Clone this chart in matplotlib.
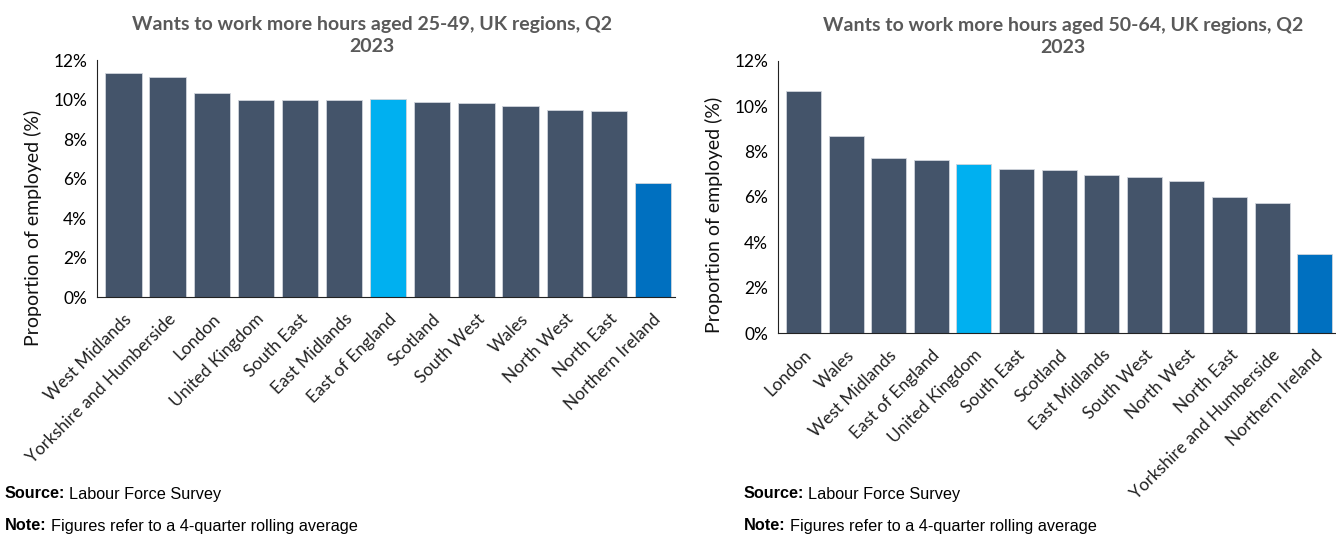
import matplotlib.pyplot as plt
from matplotlib.ticker import FuncFormatter

# regions and share of employed who want more hours, Q2 2023
regions_25_49 = ["West Midlands", "Yorkshire and Humberside", "London", "United Kingdom",
                 "South East", "East Midlands", "East of England", "Scotland", "South West",
                 "Wales", "North West", "North East", "Northern Ireland"]
values_25_49 = [11.35, 11.15, 10.35, 10.0, 10.0, 10.0, 10.02, 9.87, 9.8, 9.67, 9.48, 9.42, 5.77]

regions_50_64 = ["London", "Wales", "West Midlands", "East of England", "United Kingdom",
                 "South East", "Scotland", "East Midlands", "South West", "North West",
                 "North East", "Yorkshire and Humberside", "Northern Ireland"]
values_50_64 = [10.67, 8.69, 7.71, 7.65, 7.46, 7.24, 7.19, 6.97, 6.9, 6.72, 6.02, 5.74, 3.49]

# highlighted bar in each chart
highlight_25_49 = "East of England"
highlight_50_64 = "United Kingdom"

DARK = "#44546A"
LIGHT = "#00B0F0"
NI_BLUE = "#0070C0"
TITLE_GREY = "#595959"
FONT = "Lato"
FOOT = "Liberation Sans"


def bar_colours(names, highlight):
    out = []
    for n in names:
        if n == "Northern Ireland":
            out.append(NI_BLUE)
        elif n == highlight:
            out.append(LIGHT)
        else:
            out.append(DARK)
    return out


def draw(ax, names, vals, highlight, title, label_xy, title_x):
    x = range(len(names))
    ax.bar(x, vals, width=0.82, color=bar_colours(names, highlight),
           edgecolor="#d0d5dc", linewidth=0.6)
    ax.set_xlim(-0.6, len(names) - 0.5)
    ax.set_ylim(0, 12)
    ax.set_yticks(range(0, 13, 2))
    ax.yaxis.set_major_formatter(FuncFormatter(lambda v, p: f"{v:.0f}%"))
    ax.set_xticks(list(x))
    ax.set_xticklabels(names, rotation=45, ha="right", rotation_mode="anchor",
                       fontsize=12.5, family=FONT, color="#222222")
    for lab in ax.get_yticklabels():
        lab.set_fontfamily(FONT)
        lab.set_fontsize(12.5)
    ax.tick_params(axis="y", length=0, pad=7)
    ax.tick_params(axis="x", length=0, pad=10)
    ax.spines["top"].set_visible(False)
    ax.spines["right"].set_visible(False)
    ax.spines["left"].set_color("#222222")
    ax.spines["bottom"].set_color("#222222")
    ax.set_ylabel("Proportion of employed (%)", fontsize=14, family=FONT,
                  color="#111111")
    ax.yaxis.set_label_coords(*label_xy)
    ax.set_title(title, fontsize=14, fontweight="bold", family=FONT,
                 color=TITLE_GREY, pad=6, linespacing=1.35, x=title_x)


fig = plt.figure(figsize=(13.36, 5.34), dpi=100)
ax1 = fig.add_axes([0.0726, 0.4438, 0.4326, 0.4438])
ax2 = fig.add_axes([0.5823, 0.3764, 0.4177, 0.5094])

draw(ax1, regions_25_49, values_25_49, highlight_25_49,
     "Wants to work more hours aged 25-49, UK regions, Q2\n2023", (-0.095, 0.29), 0.476)
draw(ax2, regions_50_64, values_50_64, highlight_50_64,
     "Wants to work more hours aged 50-64, UK regions, Q2\n2023", (-0.099, 0.434), 0.511)

# source and note lines under each chart, bold lead word then plain text
fig.canvas.draw()
renderer = fig.canvas.get_renderer()
for x0 in (5 / 1336, 744 / 1336):
    for y_px, lead, rest in ((494, "Source:", "Labour Force Survey"),
                             (526, "Note:", "Figures refer to a 4-quarter rolling average")):
        t = fig.text(x0, 1 - y_px / 534, lead, fontsize=11.7, fontweight="bold",
                     family=FOOT, va="center")
        bb = t.get_window_extent(renderer)
        fig.text(bb.x1 / fig.bbox.width + 4 / 1336, 1 - y_px / 534, rest,
                 fontsize=11.7, family=FOOT, va="center")

fig.savefig("out.png", dpi=100)
